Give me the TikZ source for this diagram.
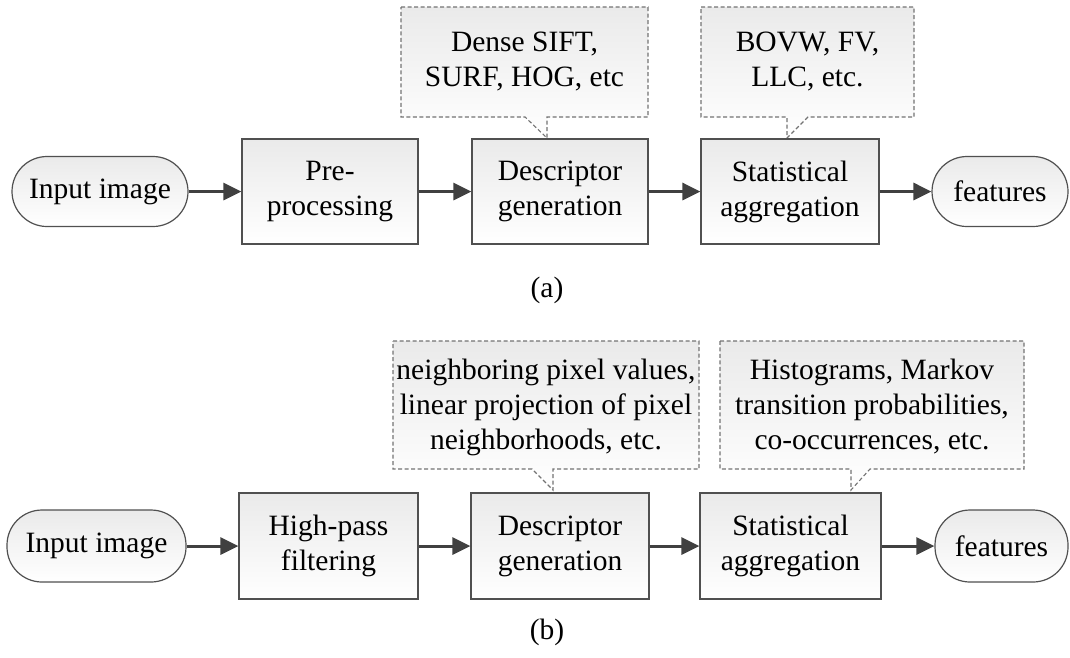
\documentclass[tikz,border=0pt]{standalone}
\usepackage{fontspec}
\setmainfont{Liberation Serif}
\usetikzlibrary{arrows.meta}

\definecolor{boxline}{RGB}{80,80,80}
\definecolor{noteline}{RGB}{115,115,115}
\definecolor{shadetop}{RGB}{234,234,234}
\definecolor{arrowc}{RGB}{64,64,64}

\tikzset{
  txt/.style={font=\fontsize{29.5}{35}\selectfont, align=center, text=black},
  procbox/.style={txt, rectangle, draw=boxline, line width=1.2pt,
    top color=shadetop, bottom color=white, inner sep=0pt,
    minimum width=#1, minimum height=105pt},
  termbox/.style={txt, rectangle, rounded corners=35pt, draw=boxline, line width=1.2pt,
    top color=shadetop, bottom color=white, inner sep=0pt,
    minimum width=#1, minimum height=70pt},
  notebox/.style={draw=noteline, line width=1.1pt, dash pattern=on 4pt off 2.5pt,
    top color=shadetop, bottom color=white},
  flow/.style={draw=arrowc, line width=3pt,
    -{Triangle[length=18pt,width=17pt]}},
  caption/.style={txt}
}

\begin{document}
\begin{tikzpicture}[x=1pt,y=-1pt]
\useasboundingbox (0,0) rectangle (1070,657);

% ---------- (a) generic image features ----------
\path[notebox] (401,7) -- (648,7) -- (648,117) -- (547,117) -- (547,138)
  -- (525,117) -- (401,117) -- cycle;
\node[txt] (n1) at (524.5,61) {Dense SIFT,\\SURF, HOG, etc};
\path[notebox] (701,7) -- (914,7) -- (914,117) -- (808,117) -- (787,138)
  -- (787,117) -- (701,117) -- cycle;
\node[txt] (n2) at (807.5,61) {BOVW, FV,\\LLC, etc.};

\node[termbox=176pt] (in1) at (100,191.5) {Input image};
\node[procbox=176pt] (pre) at (330,191.5) {Pre-\\processing};
\node[procbox=176pt] (desc1) at (560,191.5) {Descriptor\\generation};
\node[procbox=178pt] (stat1) at (790,191.5) {Statistical\\aggregation};
\node[termbox=136pt] (feat1) at (1000,191.5) {features};

\draw[flow] (in1.east) -- (pre.west);
\draw[flow] (pre.east) -- (desc1.west);
\draw[flow] (desc1.east) -- (stat1.west);
\draw[flow] (stat1.east) -- (feat1.west);

\node[caption] (capa) at (547,290) {(a)};

% ---------- (b) steganalysis features ----------
\path[notebox] (393,341) -- (699,341) -- (699,469) -- (553,469) -- (553,490)
  -- (532,469) -- (393,469) -- cycle;
\node[txt] (n3) at (546,407) {neighboring pixel values,\\linear projection of pixel\\neighborhoods, etc.};
\path[notebox] (720,341) -- (1024,341) -- (1024,469) -- (870,469) -- (851,490)
  -- (851,469) -- (720,469) -- cycle;
\node[txt] (n4) at (872,407) {Histograms, Markov\\transition probabilities,\\co-occurrences, etc.};

\node[termbox=179pt, minimum height=72pt] (in2) at (96.5,546) {Input image};
\node[procbox=179pt, minimum height=106pt] (hp) at (328.5,546) {High-pass\\filtering};
\node[procbox=178pt, minimum height=106pt] (desc2) at (560,546) {Descriptor\\generation};
\node[procbox=181pt, minimum height=106pt] (stat2) at (790.5,546) {Statistical\\aggregation};
\node[termbox=133pt, minimum height=72pt] (feat2) at (1001.5,546) {features};

\draw[flow] (in2.east) -- (hp.west);
\draw[flow] (hp.east) -- (desc2.west);
\draw[flow] (desc2.east) -- (stat2.west);
\draw[flow] (stat2.east) -- (feat2.west);

\node[caption] (capb) at (547,632) {(b)};
\end{tikzpicture}
\end{document}
